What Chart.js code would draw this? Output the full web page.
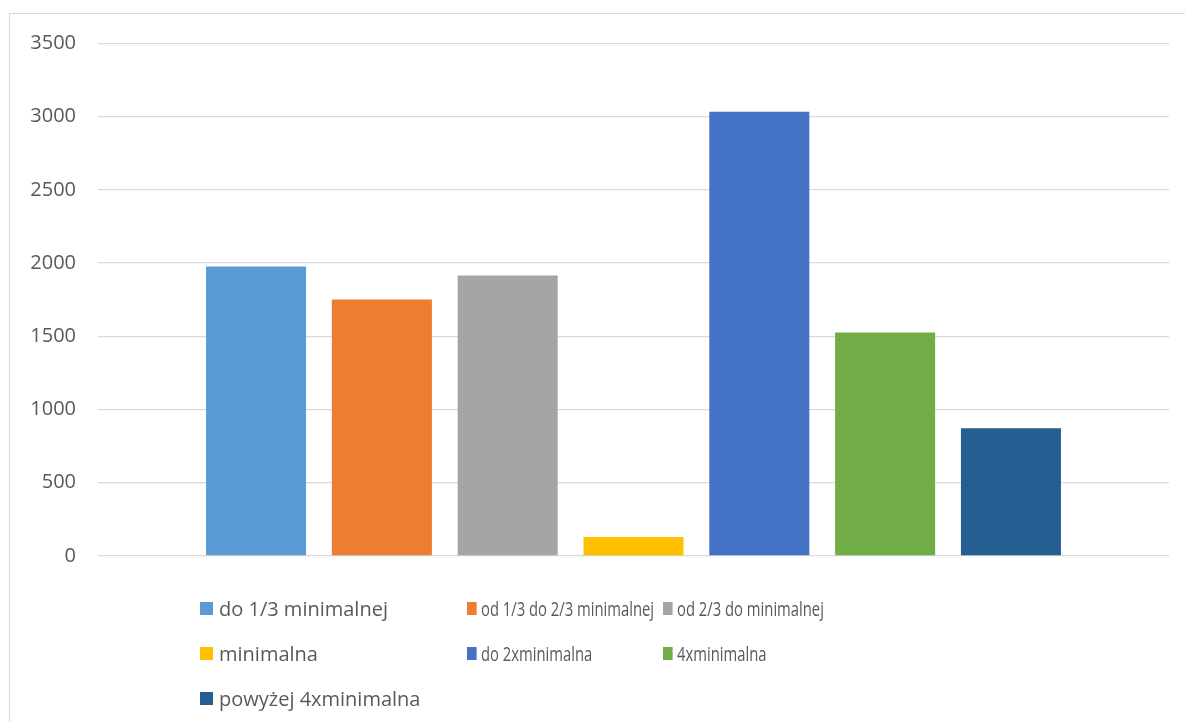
<!DOCTYPE html>
<html>
<head>
<meta charset="utf-8">
<script src="https://cdn.jsdelivr.net/npm/chart.js@4/dist/chart.umd.min.js"></script>
<style>
  html, body { margin: 0; padding: 0; background: #fff; overflow: hidden; }
  #wrap { position: relative; width: 1185px; height: 722px; }
  #frame { position: absolute; left: 9px; top: 13px; width: 1300px; height: 800px; border: 1px solid #d9d9d9; box-sizing: border-box; }
  canvas { position: absolute; left: 0; top: 0; }
  #legend { position: absolute; left: 200px; top: 586px; display: grid; grid-template-columns: 267px 196px auto; grid-auto-rows: 45px; font-family: "Open Sans", sans-serif; font-size: 20px; color: #595959; }
  .item { display: flex; align-items: center; height: 45px; white-space: nowrap; transform-origin: left center; }
  .item.cond { transform: scaleX(0.74); }
  .sw { width: 13px; height: 13px; margin-right: 6px; flex: none; }
</style>
</head>
<body>
<div id="wrap">
  <div id="frame"></div>
  <canvas id="c" width="1185" height="722"></canvas>
  <div id="legend"></div>
</div>
<script>
const categories = [''];
const seriesNames = [
  'do 1/3 minimalnej',
  'od 1/3 do 2/3 minimalnej',
  'od 2/3 do minimalnej',
  'minimalna',
  'do 2xminimalna',
  '4xminimalna',
  'powyżej 4xminimalna'
];
const seriesValues = [1977, 1752, 1916, 130, 3034, 1527, 873];
const seriesColors = ['#5B9BD5', '#ED7D31', '#A5A5A5', '#FFC000', '#4472C4', '#70AD47', '#255E91'];
const yTicks = [0, 500, 1000, 1500, 2000, 2500, 3000, 3500];

const datasets = seriesNames.map((name, i) => ({
  label: name,
  data: [seriesValues[i]],
  backgroundColor: seriesColors[i],
  borderWidth: 0,
  categoryPercentage: 0.8223,
  barPercentage: 0.795
}));

new Chart(document.getElementById('c'), {
  type: 'bar',
  data: { labels: categories, datasets },
  options: {
    responsive: false,
    animation: false,
    events: [],
    layout: { padding: { left: 10, right: 16, top: 43.5, bottom: 166 } },
    plugins: { legend: { display: false }, tooltip: { enabled: false } },
    scales: {
      x: { display: false },
      y: {
        min: 0, max: 3500,
        afterBuildTicks: (s) => { s.ticks = yTicks.map(v => ({ value: v })); },
        afterFit: (s) => { s.width = 88; },
        border: { display: false },
        grid: { color: '#d9d9d9', lineWidth: 1.3, drawTicks: false },
        ticks: { padding: 22, color: '#595959', font: { family: 'Open Sans', size: 20 }, callback: (v) => String(v) }
      }
    }
  }
});

const lg = document.getElementById('legend');
seriesNames.forEach((name, i) => {
  const it = document.createElement('div');
  it.className = 'item' + (i % 3 === 0 ? '' : ' cond');
  const sw = document.createElement('span');
  sw.className = 'sw';
  sw.style.background = seriesColors[i];
  const tx = document.createElement('span');
  tx.textContent = name;
  it.appendChild(sw); it.appendChild(tx);
  lg.appendChild(it);
});
</script>
</body>
</html>
